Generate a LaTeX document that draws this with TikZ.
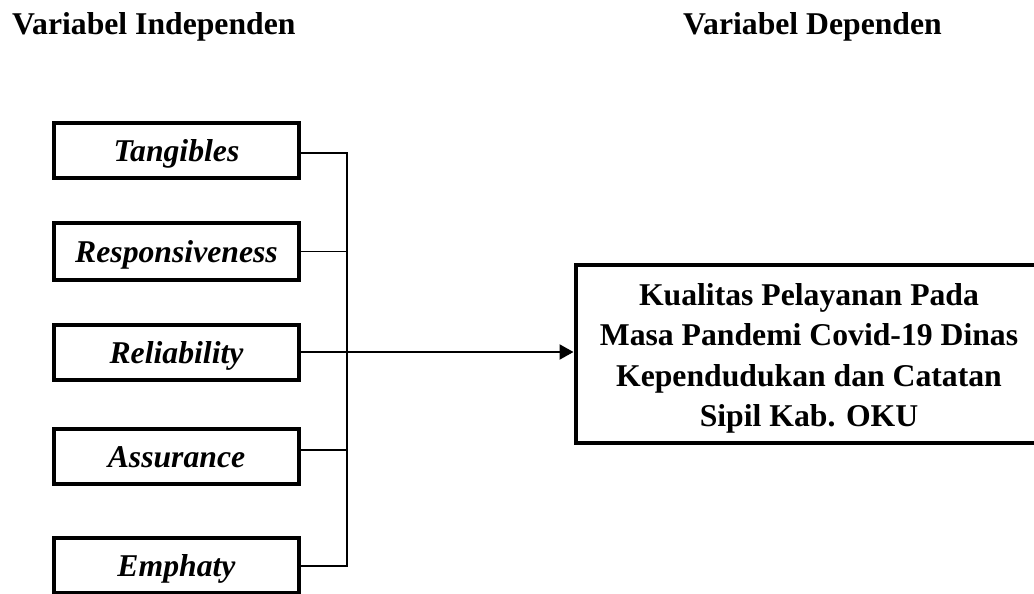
\documentclass[tikz,border=0pt]{standalone}
\usepackage{fontspec}
\setmainfont{Liberation Serif}
\usetikzlibrary{arrows.meta}
\begin{document}
\begin{tikzpicture}[x=1pt,y=-1pt,
  txt/.style={font=\fontsize{31.7}{40.5}\selectfont\bfseries},
  head/.style={txt,anchor=base west,inner sep=0pt},
  varbox/.style={draw,line width=4pt,minimum width=245pt,minimum height=55pt,inner sep=0pt,
    text height=22pt,text depth=0pt,font=\fontsize{31.7}{40.5}\selectfont\bfseries\itshape},
  depbox/.style={txt,draw,line width=4pt,minimum width=467pt,minimum height=178.5pt,align=center,inner sep=0pt},
  conn/.style={line width=1.8pt},
  arr/.style={line width=2.2pt,-{Triangle[length=14pt,width=15pt]}}
]
\clip (0,0) rectangle (1034,594);
\node[head] (hi) at (12,35) {Variabel Independen};
\node[head] (hd) at (683,35) {Variabel Dependen};

\node[varbox] (tang) at (176.5,150) {Tangibles};
\node[varbox,minimum height=57pt] (resp) at (176.5,251.5) {Responsiveness};
\node[varbox] (reli) at (176.5,352) {Reliability};
\node[varbox] (assu) at (176.5,456) {Assurance};
\node[varbox] (emph) at (176.5,565) {Emphaty};

\node[depbox] (dep) at (809,354) {\rule{0pt}{31pt}Kualitas Pelayanan Pada\\Masa Pandemi Covid-19 Dinas\\Kependudukan dan Catatan\\Sipil Kab. OKU};

\coordinate (bus) at (347,0);
\draw[conn] ([yshift=-3pt]tang.east) -- ([yshift=-3pt]tang.east -| bus) -- ([yshift=-1pt]emph.east -| bus) -- ([yshift=-1pt]emph.east);
\draw[conn] (resp.east) -- (resp.east -| bus);
\draw[conn] (reli.east) -- (reli.east -| bus);
\draw[conn] ([yshift=6pt]assu.east) -- ([yshift=6pt]assu.east -| bus);
\draw[arr] (reli.east -| bus) -- (dep.west |- reli.east);
\end{tikzpicture}
\end{document}
